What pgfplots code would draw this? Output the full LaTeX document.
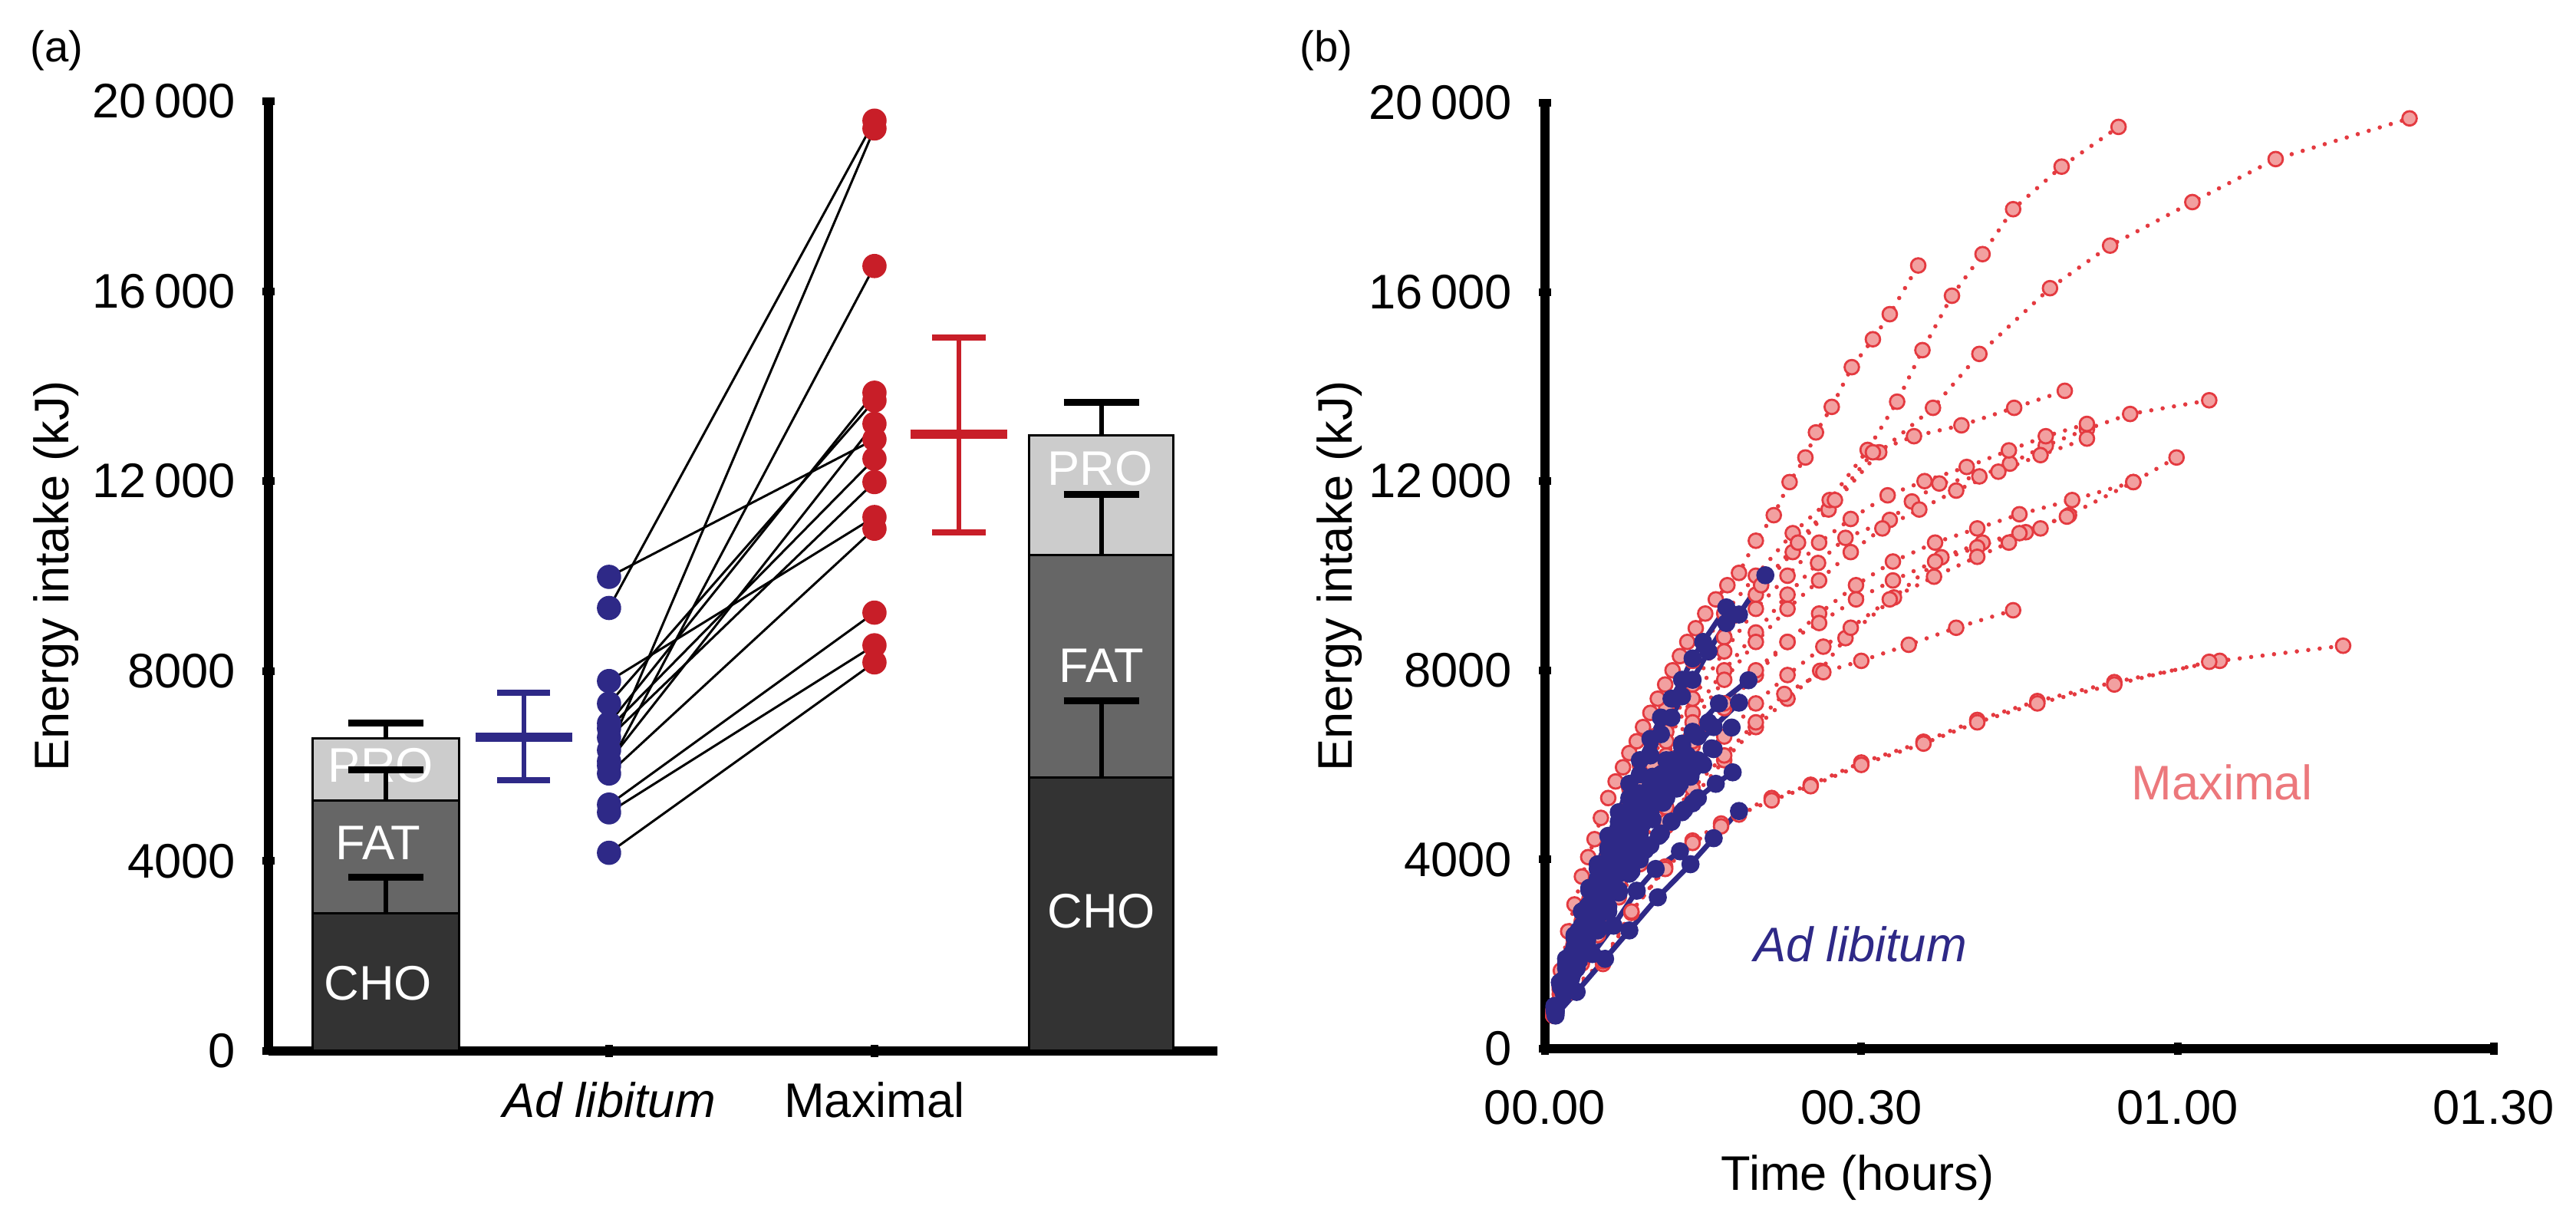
\documentclass[border=0pt]{standalone}
\usepackage{fontspec}
\setmainfont{Liberation Sans}
\usepackage{pgfplots}
\pgfplotsset{compat=1.18}
\definecolor{cho}{HTML}{333333}
\definecolor{fat}{HTML}{666666}
\definecolor{pro}{HTML}{CCCCCC}
\definecolor{blu}{RGB}{46,41,135}
\definecolor{reda}{RGB}{200,30,40}
\definecolor{redb}{RGB}{228,58,64}
\definecolor{pinkb}{RGB}{242,160,160}
\definecolor{maxlab}{RGB}{236,120,124}
\newcommand{\fs}{\fontsize{9pt}{10.8pt}\selectfont}
\begin{document}
\begin{tikzpicture}
\useasboundingbox (0,0) rectangle (167.9mm,79.45mm);
\pgfplotsset{
  myaxis/.style={
    scale only axis, axis lines=left,
    axis line style={-, line width=0.6mm, black},
    tick style={line width=0.5mm, black}, major tick length=0.8mm,
    tick label style={font=\fs}, enlargelimits=false, clip=false,
    ymin=0, ymax=20000, ytick={0,4000,8000,12000,16000,20000},
    yticklabels={0,4000,8000,12\,000,16\,000,20\,000},
    yticklabel style={xshift=-0.5mm},
    anchor=south west, scaled y ticks=false,
  },
  redline/.style={redb, line width=0.28mm, line cap=round, dash pattern=on 0pt off 0.75mm,
    mark=*, mark size=0.47mm, mark options={solid, fill=pinkb, draw=redb, line width=0.14mm}},
  blueline/.style={blu, line width=0.34mm, mark=*, mark size=0.42mm, mark options={solid, fill=blu, draw=blu}},
  pairline/.style={black, line width=0.15mm},
}
% ---------------- panel (a)
\begin{axis}[myaxis, at={(17.5mm,10.95mm)}, width=61.85mm, height=61.9mm,
  xmin=-0.283, xmax=3.292, xtick={1,2}, xticklabels={\textit{Ad libitum},Maximal},
  xticklabel style={yshift=-0.4mm}]
% left stacked bar (Ad libitum)
\addplot[draw=black, line width=0.15mm, fill=pro] coordinates {(-0.116,6579) (0.436,6579)} \closedcycle;
\addplot[draw=black, line width=0.15mm, fill=fat] coordinates {(-0.116,5270) (0.436,5270)} \closedcycle;
\addplot[draw=black, line width=0.15mm, fill=cho] coordinates {(-0.116,2897) (0.436,2897)} \closedcycle;
% right stacked bar (Maximal)
\addplot[draw=black, line width=0.15mm, fill=pro] coordinates {(2.583,12962) (3.127,12962)} \closedcycle;
\addplot[draw=black, line width=0.15mm, fill=fat] coordinates {(2.583,10442) (3.127,10442)} \closedcycle;
\addplot[draw=black, line width=0.15mm, fill=cho] coordinates {(2.583,5761) (3.127,5761)} \closedcycle;
\node[text=white, font=\fs] at (axis cs:0.13,1422) {CHO};
\node[text=white, font=\fs] at (axis cs:0.13,4378) {FAT};
\node[text=white, font=\fs] at (axis cs:0.14,6010) {PRO};
\node[text=white, font=\fs] at (axis cs:2.855,2940) {CHO};
\node[text=white, font=\fs] at (axis cs:2.855,8110) {FAT};
\node[text=white, font=\fs] at (axis cs:2.85,12262) {PRO};
% error bars of bars
\addplot[black, line width=0.3mm] coordinates {(0.16,2897) (0.16,3666)};
\addplot[black, line width=0.45mm] coordinates {(0.018,3666) (0.302,3666)};
\addplot[black, line width=0.3mm] coordinates {(0.16,5270) (0.16,5924)};
\addplot[black, line width=0.45mm] coordinates {(0.018,5924) (0.302,5924)};
\addplot[black, line width=0.3mm] coordinates {(0.16,6579) (0.16,6907)};
\addplot[black, line width=0.45mm] coordinates {(0.018,6907) (0.302,6907)};
\addplot[black, line width=0.3mm] coordinates {(2.855,5761) (2.855,7381)};
\addplot[black, line width=0.45mm] coordinates {(2.713,7381) (2.997,7381)};
\addplot[black, line width=0.3mm] coordinates {(2.855,10442) (2.855,11718)};
\addplot[black, line width=0.45mm] coordinates {(2.713,11718) (2.997,11718)};
\addplot[black, line width=0.3mm] coordinates {(2.855,12962) (2.855,13666)};
\addplot[black, line width=0.45mm] coordinates {(2.713,13666) (2.997,13666)};
% mean +- SD, Ad libitum
\addplot[blu, line width=0.28mm] coordinates {(0.679,5695) (0.679,7545)};
\addplot[blu, line width=0.4mm] coordinates {(0.579,5695) (0.779,5695)};
\addplot[blu, line width=0.4mm] coordinates {(0.579,7545) (0.779,7545)};
\addplot[blu, line width=0.6mm] coordinates {(0.496,6612) (0.862,6612)};
% mean +- SD, Maximal
\addplot[reda, line width=0.28mm] coordinates {(2.318,10917) (2.318,15025)};
\addplot[reda, line width=0.4mm] coordinates {(2.218,10917) (2.418,10917)};
\addplot[reda, line width=0.4mm] coordinates {(2.218,15025) (2.418,15025)};
\addplot[reda, line width=0.6mm] coordinates {(2.135,12995) (2.501,12995)};
% individual points
\addplot[only marks, mark=*, mark size=0.72mm, mark options={fill=blu, draw=blu}] coordinates {
 (1,9984) (1,9329) (1,7790) (1,7316) (1,6900) (1,6792) (1,6600) (1,6334) (1,6100) (1,6007) (1,5843) (1,5188) (1,5025) (1,4173)};
\addplot[only marks, mark=*, mark size=0.72mm, mark options={fill=reda, draw=reda}] coordinates {
 (2,19591) (2,19427) (2,16530) (2,13862) (2,13699) (2,13208) (2,12880) (2,12471) (2,11980) (2,11244) (2,10998) (2,9231) (2,8543) (2,8183)};
% paired lines
\addplot[pairline] coordinates {(1,9984) (2,12880)};
\addplot[pairline] coordinates {(1,9329) (2,19591)};
\addplot[pairline] coordinates {(1,7790) (2,11244)};
\addplot[pairline] coordinates {(1,7316) (2,13699)};
\addplot[pairline] coordinates {(1,6900) (2,13862)};
\addplot[pairline] coordinates {(1,6792) (2,12471)};
\addplot[pairline] coordinates {(1,6600) (2,11980)};
\addplot[pairline] coordinates {(1,6334) (2,19427)};
\addplot[pairline] coordinates {(1,6100) (2,13208)};
\addplot[pairline] coordinates {(1,6007) (2,16530)};
\addplot[pairline] coordinates {(1,5843) (2,10998)};
\addplot[pairline] coordinates {(1,5188) (2,9231)};
\addplot[pairline] coordinates {(1,5025) (2,8543)};
\addplot[pairline] coordinates {(1,4173) (2,8183)};
\end{axis}
% ---------------- panel (b)
\begin{axis}[myaxis, at={(100.7mm,11.1mm)}, width=61.85mm, height=61.65mm,
  xmin=0, xmax=90, xtick={0,30,60,90}, xticklabels={00.00,00.30,01.00,01.30},
  xticklabel style={yshift=-1.1mm}]
% Maximal (red dotted)
\addplot[redline] coordinates {(0.8,700) (1.5,1200) (2,1700) (2.8,2200) (3.5,2700) (5,3600) (6,4150) (7,4700) (9,5700) (11.5,6800) (14,7800) (17,8700) (20,9600) (23.5,10500) (26.9,11400) (31.7,12610) (36.8,13550) (41.2,14690) (47.9,16080) (53.6,16980) (61.4,17900) (69.3,18810) (82,19670)};
\addplot[redline] coordinates {(0.8,800) (1.4,1300) (2,1800) (2.7,2350) (3.5,2900) (4.2,3400) (5,3900) (6,4450) (7,5000) (8,5500) (9,6000) (10.2,6600) (11.5,7200) (14,8200) (17,9200) (20,10000) (23.5,10900) (27,11600) (30.6,12660) (33.4,13680) (35.8,14770) (38.6,15920) (41.5,16800) (44.4,17750) (49,18650) (54.4,19490)};
\addplot[redline] coordinates {(0.8,700) (1.5,1650) (2.2,2480) (2.8,3050) (3.5,3640) (4.1,4050) (4.7,4430) (5.3,4880) (6,5300) (6.7,5650) (7.4,5950) (8,6250) (8.7,6500) (9.3,6800) (10,7100) (10.7,7400) (11.4,7700) (12.1,8000) (12.8,8300) (13.5,8600) (14.3,8890) (15.2,9200) (16.2,9500) (17.3,9800) (18.4,10060) (20,10740) (21.7,11280) (23.2,11980) (24.7,12500) (25.7,13030) (27.2,13570) (29.1,14410) (31.1,15000) (32.7,15530) (35.4,16560)};
\addplot[redline] coordinates {(0.8,700) (1.4,1150) (2,1600) (2.7,2100) (3.5,2600) (4.2,3050) (5,3500) (6,4050) (7,4600) (8,5100) (9,5600) (10.2,6150) (11.5,6700) (14,7700) (17,8700) (20.5,9800) (24,10700) (27.5,11600) (31.1,12610) (35,12950) (39.5,13180) (44.5,13550) (49.3,13910)};
\addplot[redline] coordinates {(0.8,800) (2,1600) (3.5,2500) (5,3300) (7,4300) (9,5200) (11.5,6200) (14,7100) (17,8000) (20,8800) (23,9600) (25.9,10270) (28.5,10800) (32.7,11180) (34.8,11570) (37.4,11950) (41.2,12100) (44.1,12370) (47.5,12750) (51.4,13100) (55.5,13420) (63,13710)};
\addplot[redline] coordinates {(0.8,700) (2,1200) (3.5,1800) (5,2400) (7,3200) (9,3900) (11.5,4700) (14,5300) (17,6100) (20,6800) (23,7400) (26.1,7990) (28.5,8680) (33.1,9540) (37.6,10390) (41.5,10700) (45.6,10920) (49.7,11280) (55.8,11980) (59.9,12500)};
\addplot[redline] coordinates {(0.8,800) (1.4,1250) (2,1700) (2.7,2200) (3.5,2700) (4.2,3150) (5,3600) (6,4100) (7,4600) (8,5050) (9,5500) (10.2,6000) (11.5,6500) (14,7400) (17,8400) (20,9300) (23,10000) (26,10700) (29,11200) (32.5,11700) (36,12000) (40,12300) (44,12650) (47.5,12950) (51.4,13210)};
\addplot[redline] coordinates {(0.8,700) (2,1500) (3.5,2400) (5,3200) (7,4200) (9,5100) (11.5,6000) (14,6900) (17,7800) (20,8600) (23,9300) (26,9900) (29,10500) (32,11000) (35.5,11400) (39,11800) (43,12200) (47,12550) (51.4,12900)};
\addplot[redline] coordinates {(0.8,750) (2,1400) (3.5,2200) (5,3000) (7,3900) (9,4700) (11.5,5600) (14,6400) (17,7200) (20,7900) (23,8600) (26,9200) (29.5,9800) (33,10300) (37,10700) (41,11000) (45,11300) (50,11600) (55.8,11980)};
\addplot[redline] coordinates {(0.8,800) (2,1500) (3.5,2300) (5,3100) (7,4000) (9,4800) (11.5,5700) (14,6500) (17,7300) (20,8000) (23,8600) (26,9000) (29.5,9500) (33,9900) (37,10300) (41,10600) (45,10900) (49.5,11250)};
\addplot[redline] coordinates {(0.8,700) (2,1300) (3.5,2000) (5,2700) (7,3500) (9,4300) (11.5,5100) (14,5900) (17,6600) (20,7300) (23,7900) (26.4,8500) (29,8900) (32.7,9500) (36.9,9980) (41,10400) (44,10700) (47,11000)};
\addplot[redline] coordinates {(0.8,700) (2,1300) (3.5,1900) (5,2600) (7,3300) (9,4000) (11.5,4800) (14,5500) (17,6200) (20,6900) (22.7,7500) (26.4,7960) (30,8200) (34.5,8540) (39,8900) (44.4,9270)};
\addplot[redline] coordinates {(0.8,700) (2.5,1200) (5.5,1790) (8.2,2870) (11.4,3850) (14,4400) (16.7,4760) (18.4,5000) (21.5,5300) (25.2,5580) (30,6050) (35.9,6490) (41,6950) (46.7,7350) (54,7750) (64,8200) (75.7,8520)};
\addplot[redline] coordinates {(0.8,750) (2.5,1250) (5.5,1850) (8.2,2900) (11.4,3800) (14,4350) (16.7,4700) (18.4,4950) (21.5,5250) (25.2,5550) (30,6000) (35.9,6450) (41,6900) (46.7,7300) (54,7700) (63,8180)};
% Ad libitum (blue solid)
\addplot[blueline] coordinates {(0.9,800) (1.7,1450) (2.5,2000) (3.2,2500) (4,3000) (5,3600) (6,4200) (7,4800) (8,5300) (9,5800) (10,6200) (11,6650) (12,7000) (13,7450) (14,7800) (15.5,8400) (17.2,9000) (18.4,9180) (20.9,10010)};
\addplot[blueline] coordinates {(0.9,900) (1.4,1400) (2,1900) (2.8,2400) (3.5,2900) (4.2,3400) (5,3900) (6,4500) (7,5000) (8,5600) (9,6100) (10,6550) (11,7000) (12,7400) (13,7800) (14,8250) (15,8600) (17.2,9330)};
\addplot[blueline] coordinates {(1,800) (1.8,1350) (2.5,1800) (3.2,2250) (4,2700) (5,3200) (6,3700) (7,4150) (8,4600) (9,5000) (10,5400) (11,5800) (12,6100) (13,6450) (14,6700) (16.5,7300) (19.3,7790)};
\addplot[blueline] coordinates {(1,850) (2,1450) (3,2000) (4,2500) (5,3000) (6,3450) (7,3900) (8,4300) (9,4700) (10,5050) (11,5400) (12.2,5800) (13.5,6200) (16,6800) (18.4,7316)};
\addplot[blueline] coordinates {(1,900) (1.8,1450) (2.5,1900) (3.5,2500) (4.5,3100) (5.5,3600) (6.5,4100) (7.5,4550) (8.5,5000) (9.5,5350) (10.5,5700) (11.8,6050) (13,6400) (14.2,6650) (15.5,6900)};
\addplot[blueline] coordinates {(1,800) (2,1300) (3,1800) (4,2300) (5,2800) (6,3250) (7,3700) (8,4050) (9,4400) (10.2,4850) (11.5,5300) (12.8,5600) (14,5900) (15.8,6350) (17.7,6790)};
\addplot[blueline] coordinates {(0.9,900) (1.5,1300) (2,1700) (2.8,2150) (3.5,2600) (4.2,3050) (5,3500) (6,4000) (7,4500) (8,4950) (9,5400) (10.2,5750) (11.5,6100) (13,6400) (14.5,6600)};
\addplot[blueline] coordinates {(1,800) (1.8,1300) (2.5,1700) (3.5,2250) (4.5,2800) (5.5,3250) (6.5,3700) (7.5,4100) (8.5,4500) (9.5,4850) (10.5,5200) (11.8,5500) (13,5800) (14.5,6100) (16,6334)};
\addplot[blueline] coordinates {(0.9,850) (1.5,1350) (2,1800) (2.8,2350) (3.5,2900) (4.2,3350) (5,3800) (6,4250) (7,4700) (8,5000) (9,5300) (10,5550) (11,5800) (12,5950) (13,6100)};
\addplot[blueline] coordinates {(1,800) (1.8,1200) (2.5,1600) (3.2,2000) (4,2400) (5,2900) (6,3400) (7,3800) (8,4200) (9,4550) (10,4900) (11.2,5200) (12.5,5500) (13.8,5750) (15,6007)};
\addplot[blueline] coordinates {(1,750) (2,1250) (3,1700) (4,2100) (5,2500) (6,2900) (7,3300) (8.2,3750) (9.5,4200) (10.8,4500) (12,4800) (13.2,5050) (14.5,5300) (16.2,5600) (17.8,5843)};
\addplot[blueline] coordinates {(1,800) (1.8,1150) (2.5,1500) (3.2,1850) (4,2200) (5,2600) (6,3000) (7,3350) (8,3700) (9,4000) (10,4300) (11,4550) (12,4800) (13,5000) (14,5188)};
\addplot[blueline] coordinates {(1,700) (3,1200) (5.7,1900) (8,2500) (10.7,3200) (13.8,3900) (16,4450) (18.4,5025)};
\addplot[blueline] coordinates {(1,750) (2.5,1300) (4.5,2000) (6.5,2600) (8.7,3340) (10.5,3800) (12.8,4173)};
\node[text=maxlab, font=\fs] at (axis cs:64.2,5630) {Maximal};
\node[text=blu, font=\fs\itshape] at (axis cs:29.9,2207) {Ad libitum};
\end{axis}
% outer labels
\node[font=\fontsize{8pt}{9.6pt}\selectfont] at (3.7mm,76.15mm) {(a)};
\node[font=\fontsize{8pt}{9.6pt}\selectfont] at (86.45mm,76.15mm) {(b)};
\node[rotate=90, font=\fs] at (3.65mm,41.9mm) {Energy intake (kJ)};
\node[rotate=90, font=\fs] at (87.3mm,41.9mm) {Energy intake (kJ)};
\node[font=\fs] at (121.1mm,2.7mm) {Time (hours)};
\end{tikzpicture}
\end{document}
